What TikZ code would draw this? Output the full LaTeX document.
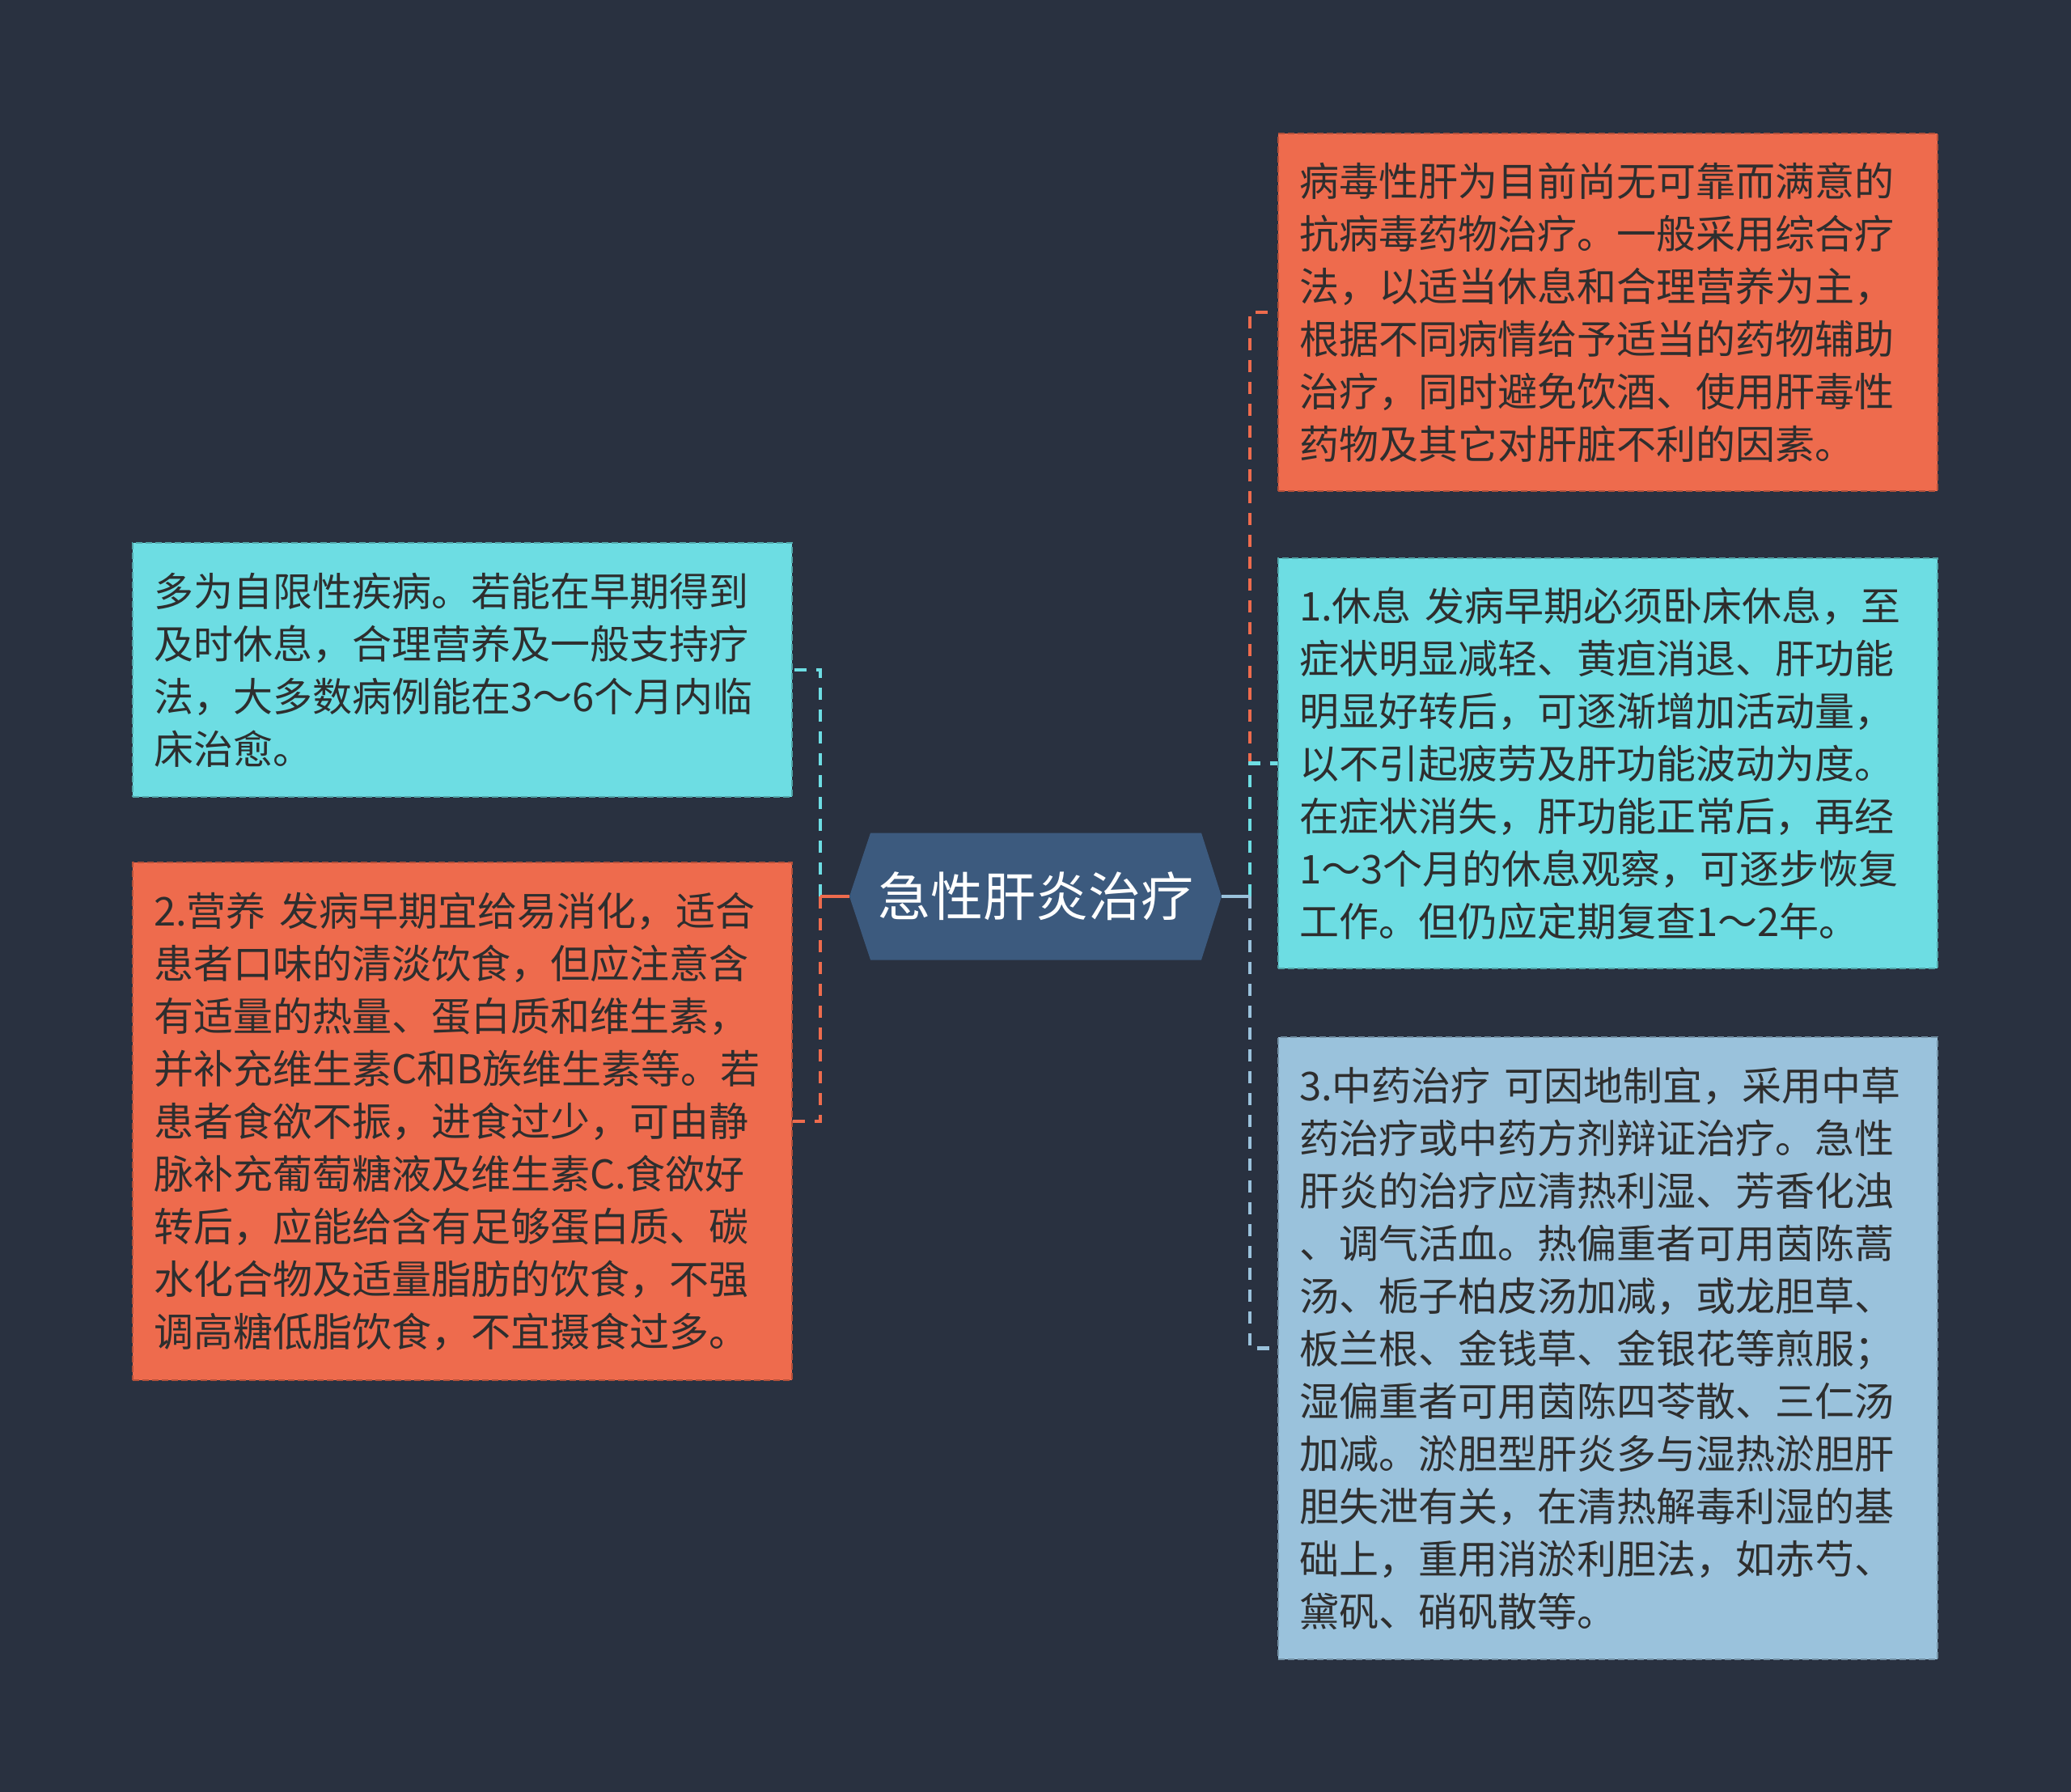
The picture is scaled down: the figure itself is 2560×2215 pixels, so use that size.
\documentclass[tikz,border=0pt]{standalone}
\usepackage{fontspec}
\newfontfamily\cjk{Noto Sans CJK SC}
\definecolor{bg}{HTML}{293140}
\definecolor{orangef}{HTML}{EE6B4D}
\definecolor{cyanf}{HTML}{6DDDE3}
\definecolor{bluef}{HTML}{9AC2DC}
\definecolor{hexf}{HTML}{3C5A7E}
\definecolor{txt}{HTML}{2E2E2E}
\begin{document}
\begin{tikzpicture}[x=1pt,y=-1pt,
  box/.style={rectangle, align=left, text width=763pt, inner xsep=26pt, inner ysep=0pt,
    font={\cjk\fontsize{49pt}{65pt}\selectfont}, text=txt, line width=2pt,
    dash pattern=on 8pt off 4pt},
  obox/.style={box, fill=orangef, draw=orangef!75!black},
  cbox/.style={box, fill=cyanf, draw=cyanf!75!black},
  bbox/.style={box, fill=bluef, draw=bluef!75!black},
  link/.style={line width=4.5pt, dash pattern=on 15pt off 12pt},
  stub/.style={line width=4.5pt},
  hexnode/.style={rectangle, minimum width=460pt, minimum height=157pt, inner sep=0pt,
    text=white, font={\cjk\fontsize{65pt}{78pt}\selectfont},
    path picture={\fill[hexf] (path picture bounding box.west)
      -- ([xshift=26pt]path picture bounding box.north west)
      -- ([xshift=-25pt]path picture bounding box.north east)
      -- (path picture bounding box.east)
      -- ([xshift=-25pt]path picture bounding box.south east)
      -- ([xshift=26pt]path picture bounding box.south west) -- cycle;}},
]
\fill[bg] (0,0) rectangle (2560,2215);
\useasboundingbox (0,0) rectangle (2560,2215);

\node[hexnode] (c) at (1280,1108) {急性肝炎治疗};

\node[obox, minimum height=442pt] (R1) at (1987.5,386) {病毒性肝为目前尚无可靠而满意的\\抗病毒药物治疗。一般采用综合疗\\法，以适当休息和合理营养为主，\\根据不同病情给予适当的药物辅助\\治疗，同时避免饮酒、使用肝毒性\\药物及其它对肝脏不利的因素。};

\node[cbox, minimum height=507pt] (R2) at (1987.5,943.5) {1.休息 发病早期必须卧床休息，至\\症状明显减轻、黄疸消退、肝功能\\明显好转后，可逐渐增加活动量，\\以不引起疲劳及肝功能波动为度。\\在症状消失，肝功能正常后，再经\\1～3个月的休息观察，可逐步恢复\\工作。但仍应定期复查1～2年。};

\node[bbox, minimum height=769pt] (R3) at (1987.5,1666.5) {3.中药治疗 可因地制宜，采用中草\\药治疗或中药方剂辩证治疗。急性\\肝炎的治疗应清热利湿、芳香化浊\\、调气活血。热偏重者可用茵陈蒿\\汤、栀子柏皮汤加减，或龙胆草、\\板兰根、金钱草、金银花等煎服；\\湿偏重者可用茵陈四苓散、三仁汤\\加减。淤胆型肝炎多与湿热淤胆肝\\胆失泄有关，在清热解毒利湿的基\\础上，重用消淤利胆法，如赤芍、\\黛矾、硝矾散等。};

\node[cbox, minimum height=314pt] (L1) at (571.5,828) {多为自限性疾病。若能在早期得到\\及时休息，合理营养及一般支持疗\\法，大多数病例能在3～6个月内临\\床治愈。};

\node[obox, minimum height=640pt] (L2) at (571.5,1386) {2.营养 发病早期宜给易消化，适合\\患者口味的清淡饮食，但应注意含\\有适量的热量、蛋白质和维生素，\\并补充维生素C和B族维生素等。若\\患者食欲不振，进食过少，可由静\\脉补充葡萄糖液及维生素C.食欲好\\转后，应能给含有足够蛋白质、碳\\水化合物及适量脂肪的饮食，不强\\调高糖低脂饮食，不宜摄食过多。};

\coordinate (lbus) at ([xshift=-36pt]c.west);
\coordinate (rbus) at ([xshift=35pt]c.east);

\draw[link, cyanf] (lbus) |- (L1.east);
\draw[link, orangef] (lbus) |- (L2.east);
\draw[stub, orangef] (c.west) -- (lbus);

\draw[link, orangef] (rbus) |- (R1.west);
\draw[link, cyanf] (rbus) |- (R2.west);
\draw[link, bluef] (rbus) |- (R3.west);
\draw[stub, bluef] (c.east) -- (rbus);
\end{tikzpicture}
\end{document}
